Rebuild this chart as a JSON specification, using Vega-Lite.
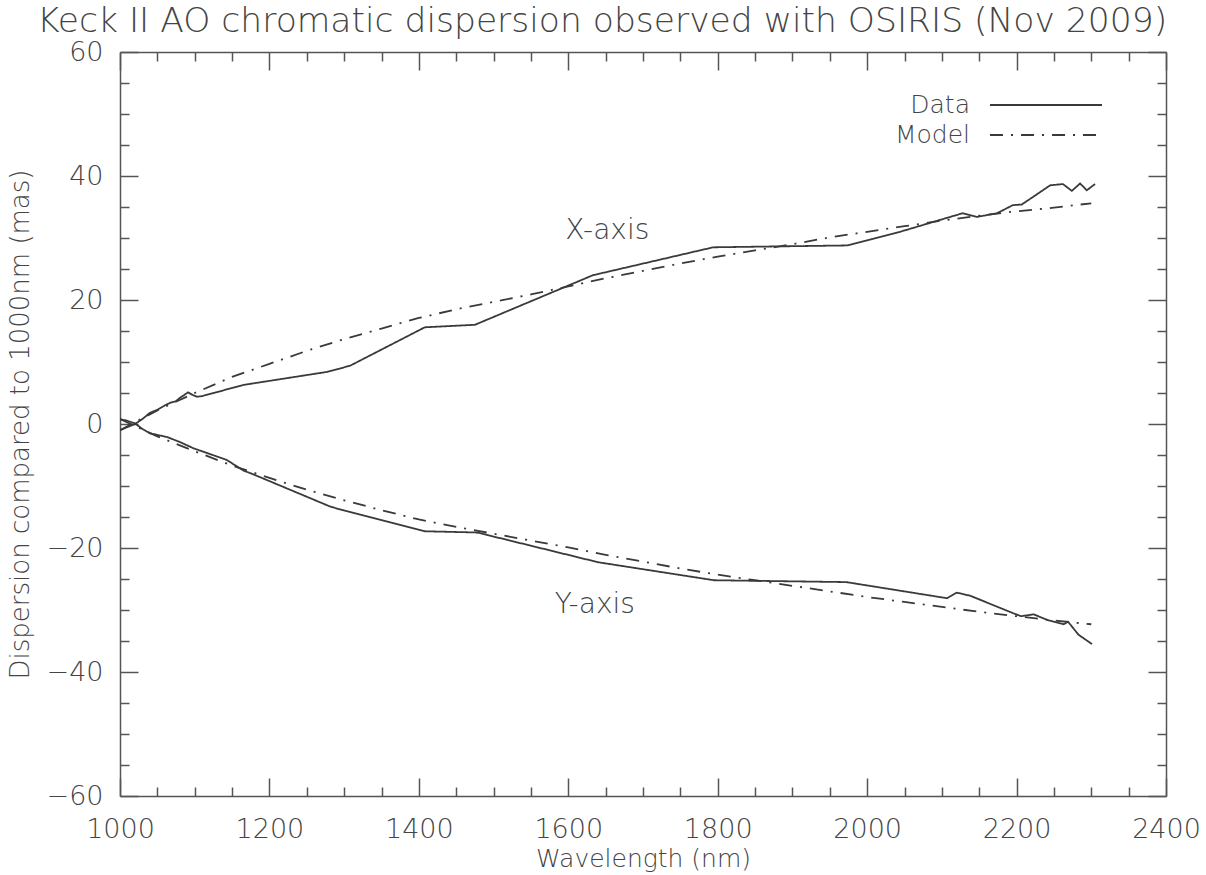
{
  "$schema": "https://vega.github.io/schema/vega-lite/v6.json",
  "width": 1046,
  "height": 744,
  "autosize": {"type": "none"},
  "padding": {"left": 120, "top": 52, "right": 40, "bottom": 79},
  "background": "white",
  "title": {
    "text": "Keck II AO chromatic dispersion observed with OSIRIS (Nov 2009)",
    "font": "DejaVu Sans",
    "fontSize": 34.5,
    "fontWeight": 300,
    "color": "#444444",
    "anchor": "middle",
    "dx": -41,
    "offset": -1
  },
  "config": {
    "view": {"stroke": null},
    "axis": {
      "labelFont": "DejaVu Sans",
      "titleFont": "DejaVu Sans",
      "labelFontWeight": 300,
      "labelColor": "#444444",
      "titleColor": "#444444",
      "domainColor": "#555555",
      "tickColor": "#555555",
      "domainWidth": 1.5,
      "tickWidth": 1.5,
      "labelFontSize": 27,
      "titleFontWeight": 300,
      "grid": false,
      "labelFlush": false,
      "labelOverlap": false
    }
  },
  "datasets": {
    "curves": [
      {"wl": 1000, "val": -1.0, "series": "X-axis", "kind": "Data"},
      {"wl": 1010, "val": -0.5, "series": "X-axis", "kind": "Data"},
      {"wl": 1020, "val": 0.0, "series": "X-axis", "kind": "Data"},
      {"wl": 1030, "val": 0.8, "series": "X-axis", "kind": "Data"},
      {"wl": 1040, "val": 1.8, "series": "X-axis", "kind": "Data"},
      {"wl": 1050, "val": 2.3, "series": "X-axis", "kind": "Data"},
      {"wl": 1060, "val": 3.0, "series": "X-axis", "kind": "Data"},
      {"wl": 1067, "val": 3.4, "series": "X-axis", "kind": "Data"},
      {"wl": 1075, "val": 3.7, "series": "X-axis", "kind": "Data"},
      {"wl": 1080, "val": 4.2, "series": "X-axis", "kind": "Data"},
      {"wl": 1085, "val": 4.6, "series": "X-axis", "kind": "Data"},
      {"wl": 1091, "val": 5.1, "series": "X-axis", "kind": "Data"},
      {"wl": 1097, "val": 4.7, "series": "X-axis", "kind": "Data"},
      {"wl": 1103, "val": 4.4, "series": "X-axis", "kind": "Data"},
      {"wl": 1110, "val": 4.5, "series": "X-axis", "kind": "Data"},
      {"wl": 1165, "val": 6.3, "series": "X-axis", "kind": "Data"},
      {"wl": 1277, "val": 8.4, "series": "X-axis", "kind": "Data"},
      {"wl": 1308, "val": 9.4, "series": "X-axis", "kind": "Data"},
      {"wl": 1408, "val": 15.6, "series": "X-axis", "kind": "Data"},
      {"wl": 1475, "val": 16.0, "series": "X-axis", "kind": "Data"},
      {"wl": 1633, "val": 24.0, "series": "X-axis", "kind": "Data"},
      {"wl": 1794, "val": 28.5, "series": "X-axis", "kind": "Data"},
      {"wl": 1973, "val": 28.8, "series": "X-axis", "kind": "Data"},
      {"wl": 2044, "val": 31.0, "series": "X-axis", "kind": "Data"},
      {"wl": 2128, "val": 34.0, "series": "X-axis", "kind": "Data"},
      {"wl": 2147, "val": 33.4, "series": "X-axis", "kind": "Data"},
      {"wl": 2174, "val": 34.0, "series": "X-axis", "kind": "Data"},
      {"wl": 2195, "val": 35.3, "series": "X-axis", "kind": "Data"},
      {"wl": 2207, "val": 35.4, "series": "X-axis", "kind": "Data"},
      {"wl": 2245, "val": 38.5, "series": "X-axis", "kind": "Data"},
      {"wl": 2262, "val": 38.7, "series": "X-axis", "kind": "Data"},
      {"wl": 2274, "val": 37.6, "series": "X-axis", "kind": "Data"},
      {"wl": 2285, "val": 38.8, "series": "X-axis", "kind": "Data"},
      {"wl": 2294, "val": 37.7, "series": "X-axis", "kind": "Data"},
      {"wl": 2305, "val": 38.7, "series": "X-axis", "kind": "Data"},

      {"wl": 1000, "val": 0.8, "series": "Y-axis", "kind": "Data"},
      {"wl": 1010, "val": 0.5, "series": "Y-axis", "kind": "Data"},
      {"wl": 1020, "val": 0.1, "series": "Y-axis", "kind": "Data"},
      {"wl": 1030, "val": -0.8, "series": "Y-axis", "kind": "Data"},
      {"wl": 1040, "val": -1.5, "series": "Y-axis", "kind": "Data"},
      {"wl": 1063, "val": -2.1, "series": "Y-axis", "kind": "Data"},
      {"wl": 1080, "val": -2.9, "series": "Y-axis", "kind": "Data"},
      {"wl": 1098, "val": -3.9, "series": "Y-axis", "kind": "Data"},
      {"wl": 1143, "val": -5.8, "series": "Y-axis", "kind": "Data"},
      {"wl": 1165, "val": -7.5, "series": "Y-axis", "kind": "Data"},
      {"wl": 1178, "val": -8.1, "series": "Y-axis", "kind": "Data"},
      {"wl": 1281, "val": -13.3, "series": "Y-axis", "kind": "Data"},
      {"wl": 1298, "val": -13.9, "series": "Y-axis", "kind": "Data"},
      {"wl": 1408, "val": -17.3, "series": "Y-axis", "kind": "Data"},
      {"wl": 1478, "val": -17.5, "series": "Y-axis", "kind": "Data"},
      {"wl": 1640, "val": -22.3, "series": "Y-axis", "kind": "Data"},
      {"wl": 1795, "val": -25.2, "series": "Y-axis", "kind": "Data"},
      {"wl": 1972, "val": -25.5, "series": "Y-axis", "kind": "Data"},
      {"wl": 2107, "val": -28.1, "series": "Y-axis", "kind": "Data"},
      {"wl": 2120, "val": -27.2, "series": "Y-axis", "kind": "Data"},
      {"wl": 2138, "val": -27.7, "series": "Y-axis", "kind": "Data"},
      {"wl": 2195, "val": -30.5, "series": "Y-axis", "kind": "Data"},
      {"wl": 2206, "val": -31.0, "series": "Y-axis", "kind": "Data"},
      {"wl": 2223, "val": -30.7, "series": "Y-axis", "kind": "Data"},
      {"wl": 2241, "val": -31.6, "series": "Y-axis", "kind": "Data"},
      {"wl": 2263, "val": -32.3, "series": "Y-axis", "kind": "Data"},
      {"wl": 2269, "val": -31.9, "series": "Y-axis", "kind": "Data"},
      {"wl": 2283, "val": -34.0, "series": "Y-axis", "kind": "Data"},
      {"wl": 2301, "val": -35.5, "series": "Y-axis", "kind": "Data"},

      {"wl": 1000, "val": -1.0, "series": "X-axis", "kind": "Model"},
      {"wl": 1050, "val": 2.2, "series": "X-axis", "kind": "Model"},
      {"wl": 1100, "val": 5.0, "series": "X-axis", "kind": "Model"},
      {"wl": 1150, "val": 7.6, "series": "X-axis", "kind": "Model"},
      {"wl": 1200, "val": 9.7, "series": "X-axis", "kind": "Model"},
      {"wl": 1250, "val": 11.8, "series": "X-axis", "kind": "Model"},
      {"wl": 1300, "val": 13.7, "series": "X-axis", "kind": "Model"},
      {"wl": 1350, "val": 15.4, "series": "X-axis", "kind": "Model"},
      {"wl": 1400, "val": 17.1, "series": "X-axis", "kind": "Model"},
      {"wl": 1450, "val": 18.5, "series": "X-axis", "kind": "Model"},
      {"wl": 1500, "val": 19.7, "series": "X-axis", "kind": "Model"},
      {"wl": 1550, "val": 20.9, "series": "X-axis", "kind": "Model"},
      {"wl": 1600, "val": 22.2, "series": "X-axis", "kind": "Model"},
      {"wl": 1650, "val": 23.5, "series": "X-axis", "kind": "Model"},
      {"wl": 1700, "val": 24.7, "series": "X-axis", "kind": "Model"},
      {"wl": 1750, "val": 25.9, "series": "X-axis", "kind": "Model"},
      {"wl": 1800, "val": 27.0, "series": "X-axis", "kind": "Model"},
      {"wl": 1850, "val": 28.0, "series": "X-axis", "kind": "Model"},
      {"wl": 1900, "val": 29.0, "series": "X-axis", "kind": "Model"},
      {"wl": 1950, "val": 30.1, "series": "X-axis", "kind": "Model"},
      {"wl": 2000, "val": 31.0, "series": "X-axis", "kind": "Model"},
      {"wl": 2050, "val": 31.9, "series": "X-axis", "kind": "Model"},
      {"wl": 2100, "val": 32.8, "series": "X-axis", "kind": "Model"},
      {"wl": 2150, "val": 33.6, "series": "X-axis", "kind": "Model"},
      {"wl": 2200, "val": 34.3, "series": "X-axis", "kind": "Model"},
      {"wl": 2250, "val": 34.9, "series": "X-axis", "kind": "Model"},
      {"wl": 2300, "val": 35.6, "series": "X-axis", "kind": "Model"},

      {"wl": 1000, "val": 0.8, "series": "Y-axis", "kind": "Model"},
      {"wl": 1050, "val": -2.0, "series": "Y-axis", "kind": "Model"},
      {"wl": 1100, "val": -4.4, "series": "Y-axis", "kind": "Model"},
      {"wl": 1150, "val": -6.7, "series": "Y-axis", "kind": "Model"},
      {"wl": 1200, "val": -8.7, "series": "Y-axis", "kind": "Model"},
      {"wl": 1250, "val": -10.6, "series": "Y-axis", "kind": "Model"},
      {"wl": 1300, "val": -12.3, "series": "Y-axis", "kind": "Model"},
      {"wl": 1350, "val": -13.9, "series": "Y-axis", "kind": "Model"},
      {"wl": 1400, "val": -15.4, "series": "Y-axis", "kind": "Model"},
      {"wl": 1450, "val": -16.6, "series": "Y-axis", "kind": "Model"},
      {"wl": 1500, "val": -17.7, "series": "Y-axis", "kind": "Model"},
      {"wl": 1550, "val": -18.8, "series": "Y-axis", "kind": "Model"},
      {"wl": 1600, "val": -19.9, "series": "Y-axis", "kind": "Model"},
      {"wl": 1650, "val": -21.1, "series": "Y-axis", "kind": "Model"},
      {"wl": 1700, "val": -22.2, "series": "Y-axis", "kind": "Model"},
      {"wl": 1750, "val": -23.3, "series": "Y-axis", "kind": "Model"},
      {"wl": 1800, "val": -24.3, "series": "Y-axis", "kind": "Model"},
      {"wl": 1850, "val": -25.2, "series": "Y-axis", "kind": "Model"},
      {"wl": 1900, "val": -26.1, "series": "Y-axis", "kind": "Model"},
      {"wl": 1950, "val": -27.0, "series": "Y-axis", "kind": "Model"},
      {"wl": 2000, "val": -27.9, "series": "Y-axis", "kind": "Model"},
      {"wl": 2050, "val": -28.7, "series": "Y-axis", "kind": "Model"},
      {"wl": 2100, "val": -29.5, "series": "Y-axis", "kind": "Model"},
      {"wl": 2150, "val": -30.3, "series": "Y-axis", "kind": "Model"},
      {"wl": 2200, "val": -31.0, "series": "Y-axis", "kind": "Model"},
      {"wl": 2250, "val": -31.7, "series": "Y-axis", "kind": "Model"},
      {"wl": 2300, "val": -32.3, "series": "Y-axis", "kind": "Model"}
    ],
    "notes": [
      {"wl": 1596, "val": 31.1, "text": "X-axis"},
      {"wl": 1582, "val": -29.2, "text": "Y-axis"}
    ]
  },
  "resolve": {"axis": {"x": "independent", "y": "independent"}},
  "layer": [
    {
      "data": {"name": "curves"},
      "mark": {"type": "line", "strokeWidth": 1.8, "color": "#3a3a3a", "clip": true},
      "encoding": {
        "x": {
          "field": "wl", "type": "quantitative",
          "scale": {"domain": [1000, 2400], "nice": false, "zero": false},
          "axis": {
            "orient": "bottom",
            "values": [1000, 1200, 1400, 1600, 1800, 2000, 2200, 2400],
            "format": "d",
            "tickSize": -18,
            "labelPadding": 38,
            "title": "Wavelength (nm)",
            "titleFontSize": 25,
            "titlePadding": 4
          }
        },
        "y": {
          "field": "val", "type": "quantitative",
          "scale": {"domain": [-60, 60], "nice": false, "zero": false},
          "axis": {
            "orient": "left",
            "values": [-60, -40, -20, 0, 20, 40, 60],
            "format": "d",
            "tickSize": -18,
            "labelPadding": 35,
            "title": "Dispersion compared to 1000nm (mas)",
            "titleFontSize": 26,
            "titlePadding": 13
          }
        },
        "detail": {"field": "series"},
        "strokeDash": {
          "field": "kind", "type": "nominal",
          "scale": {"domain": ["Data", "Model"], "range": [[1, 0], [13, 8, 2, 8]]},
          "legend": {
            "title": null,
            "orient": "none",
            "legendX": 909,
            "legendY": 36,
            "symbolType": "M-3.5,0H3.5",
            "symbolSize": 1024,
            "symbolStrokeWidth": 1.8,
            "symbolStrokeColor": "#3a3a3a",
            "labelAlign": "right",
            "labelOffset": -93,
            "labelFont": "DejaVu Sans",
            "labelFontWeight": 300,
            "labelFontSize": 25,
            "labelColor": "#444444",
            "rowPadding": 0,
            "padding": 0
          }
        },
        "order": {"field": "wl", "type": "quantitative"}
      }
    },
    {
      "data": {"name": "curves"},
      "mark": {"type": "line", "strokeOpacity": 0},
      "encoding": {
        "x": {
          "field": "wl", "type": "quantitative",
          "axis": {
            "orient": "bottom",
            "values": [1050, 1100, 1150, 1250, 1300, 1350, 1450, 1500, 1550, 1650, 1700, 1750, 1850, 1900, 1950, 2050, 2100, 2150, 2250, 2300, 2350],
            "tickSize": -9, "labels": false, "domain": false, "title": null
          }
        },
        "y": {
          "field": "val", "type": "quantitative",
          "axis": {
            "orient": "left",
            "values": [-55, -50, -45, -35, -30, -25, -15, -10, -5, 5, 10, 15, 25, 30, 35, 45, 50, 55],
            "tickSize": -9, "labels": false, "domain": false, "title": null
          }
        },
        "detail": {"field": "series"}
      }
    },
    {
      "data": {"name": "curves"},
      "mark": {"type": "line", "strokeOpacity": 0},
      "encoding": {
        "x": {
          "field": "wl", "type": "quantitative",
          "axis": {
            "orient": "top",
            "values": [1000, 1200, 1400, 1600, 1800, 2000, 2200, 2400],
            "tickSize": -18, "labels": false, "title": null
          }
        },
        "y": {
          "field": "val", "type": "quantitative",
          "axis": {
            "orient": "right",
            "values": [-60, -40, -20, 0, 20, 40, 60],
            "tickSize": -18, "labels": false, "title": null
          }
        },
        "detail": {"field": "series"}
      }
    },
    {
      "data": {"name": "curves"},
      "mark": {"type": "line", "strokeOpacity": 0},
      "encoding": {
        "x": {
          "field": "wl", "type": "quantitative",
          "axis": {
            "orient": "top",
            "values": [1050, 1100, 1150, 1250, 1300, 1350, 1450, 1500, 1550, 1650, 1700, 1750, 1850, 1900, 1950, 2050, 2100, 2150, 2250, 2300, 2350],
            "tickSize": -9, "labels": false, "domain": false, "title": null
          }
        },
        "y": {
          "field": "val", "type": "quantitative",
          "axis": {
            "orient": "right",
            "values": [-55, -50, -45, -35, -30, -25, -15, -10, -5, 5, 10, 15, 25, 30, 35, 45, 50, 55],
            "tickSize": -9, "labels": false, "domain": false, "title": null
          }
        },
        "detail": {"field": "series"}
      }
    },
    {
      "data": {"name": "notes"},
      "mark": {"type": "text", "align": "left", "baseline": "middle", "font": "DejaVu Sans", "fontWeight": 300, "fontSize": 28, "color": "#444444"},
      "encoding": {
        "x": {"field": "wl", "type": "quantitative", "axis": null},
        "y": {"field": "val", "type": "quantitative", "axis": null},
        "text": {"field": "text"}
      }
    }
  ]
}
